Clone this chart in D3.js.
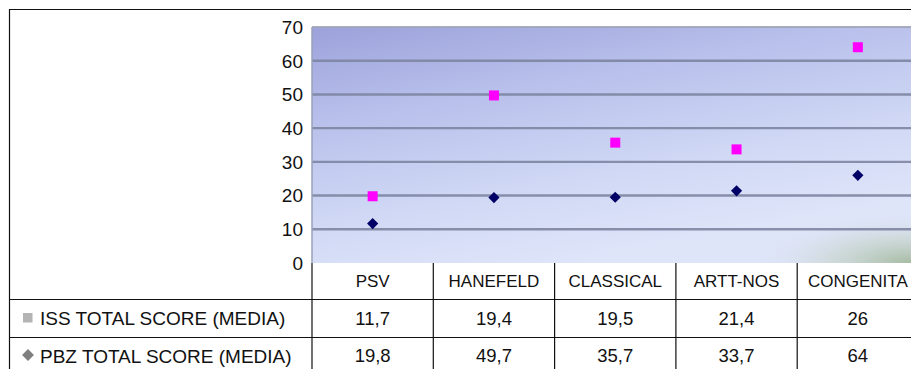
<!DOCTYPE html>
<html><head><meta charset="utf-8">
<script src="https://cdn.jsdelivr.net/npm/d3@7/dist/d3.min.js"></script>
<style>
html,body{margin:0;padding:0;background:#fff;overflow:hidden}
svg{display:block;font-family:"Liberation Sans",Arial,sans-serif}
</style></head><body>
<div id="chart"></div>
<script>
const categories = ["PSV","HANEFELD","CLASSICAL","ARTT-NOS","CONGENITA"];
const seriesNames = ["ISS TOTAL SCORE (MEDIA)","PBZ TOTAL SCORE (MEDIA)"];
const issValues = [11.7,19.4,19.5,21.4,26];
const pbzValues = [19.8,49.7,35.7,33.7,64];
const issLabels = ["11,7","19,4","19,5","21,4","26"];
const pbzLabels = ["19,8","49,7","35,7","33,7","64"];
const yTicks = [0,10,20,30,40,50,60,70];

const W=911,H=369;
const svg=d3.select("#chart").append("svg").attr("width",W).attr("height",H);
const defs=svg.append("defs");
const lg=defs.append("linearGradient").attr("id","bg").attr("x1","0").attr("y1","0").attr("x2","0.45").attr("y2","1");
lg.append("stop").attr("offset","0").attr("stop-color","#9ca2da");
lg.append("stop").attr("offset","0.35").attr("stop-color","#b9c1ec");
lg.append("stop").attr("offset","0.7").attr("stop-color","#d0d8f5");
lg.append("stop").attr("offset","1").attr("stop-color","#dfe5f9");
const rg=defs.append("radialGradient").attr("id","green").attr("cx","1").attr("cy","1").attr("r","0.6");
rg.append("stop").attr("offset","0").attr("stop-color","#9cb494").attr("stop-opacity",0.85);
rg.append("stop").attr("offset","0.5").attr("stop-color","#bccdba").attr("stop-opacity",0.45);
rg.append("stop").attr("offset","1").attr("stop-color","#dde3f8").attr("stop-opacity",0);

const plotL=312, catW=121.3, plotT=27, plotB=263;
const x=d3.scaleBand().domain(categories).range([plotL, plotL+catW*categories.length]);
const y=d3.scaleLinear().domain([0,70]).range([plotB,plotT]);

// plot background
svg.append("rect").attr("x",plotL).attr("y",plotT).attr("width",W-plotL).attr("height",plotB-plotT).attr("fill","url(#bg)");
svg.append("rect").attr("x",plotL+330).attr("y",plotT+150).attr("width",W-plotL-330).attr("height",plotB-plotT-150).attr("fill","url(#green)");

// gridlines
svg.append("g").selectAll("line").data(yTicks.filter(d=>d>0)).join("line")
  .attr("x1",plotL).attr("x2",W).attr("y1",d=>y(d)).attr("y2",d=>y(d))
  .attr("stroke",d=>d===70?"#a0a6b8":"#7e86a2").attr("stroke-width",d=>d===70?2:2.4).attr("opacity",0.9);
// left axis line
svg.append("line").attr("x1",plotL).attr("x2",plotL).attr("y1",plotT).attr("y2",plotB).attr("stroke","#9aa0b8").attr("stroke-width",1.5);

// y tick labels
svg.append("g").selectAll("text").data(yTicks).join("text")
  .attr("x",303).attr("y",d=>y(d)).attr("dy","0.36em").attr("text-anchor","end")
  .attr("font-size",19).attr("fill","#111").text(d=>d);

// outer border
svg.append("line").attr("x1",9).attr("x2",W).attr("y1",9.5).attr("y2",9.5).attr("stroke","#111").attr("stroke-width",1.2);
svg.append("line").attr("x1",9.5).attr("x2",9.5).attr("y1",9).attr("y2",H).attr("stroke","#111").attr("stroke-width",1.2);

// table
const rowY=[263,299.5,337.5,376];
const tbl=svg.append("g").attr("stroke","#111").attr("stroke-width",1.2);
tbl.append("line").attr("x1",9).attr("x2",W).attr("y1",rowY[1]).attr("y2",rowY[1]);
tbl.append("line").attr("x1",9).attr("x2",W).attr("y1",rowY[2]).attr("y2",rowY[2]);
tbl.append("line").attr("x1",plotL).attr("x2",plotL).attr("y1",rowY[0]).attr("y2",H);
tbl.selectAll("line.v").data(categories.slice(1)).join("line").attr("class","v")
  .attr("x1",d=>x(d)).attr("x2",d=>x(d)).attr("y1",rowY[0]).attr("y2",H);

const cx=d=>x(d)+x.bandwidth()/2;
svg.append("g").selectAll("text").data(categories).join("text")
  .attr("x",cx).attr("y",(rowY[0]+rowY[1])/2).attr("dy","0.36em").attr("text-anchor","middle")
  .attr("font-size",17).attr("fill","#111").text(d=>d);
svg.append("g").selectAll("text").data(categories).join("text")
  .attr("x",cx).attr("y",(rowY[1]+rowY[2])/2).attr("dy","0.36em").attr("text-anchor","middle")
  .attr("font-size",18.5).attr("fill","#111").text((d,i)=>issLabels[i]);
svg.append("g").selectAll("text").data(categories).join("text")
  .attr("x",cx).attr("y",(rowY[2]+rowY[3])/2-1).attr("dy","0.36em").attr("text-anchor","middle")
  .attr("font-size",18.5).attr("fill","#111").text((d,i)=>pbzLabels[i]);

// legend in table
svg.append("rect").attr("x",23).attr("y",313).attr("width",9.5).attr("height",9.5).attr("fill","#b4b4b4");
svg.append("path").attr("d",d3.symbol(d3.symbolDiamond2,90)()).attr("transform","translate(28,355)").attr("fill","#808080");
svg.append("text").attr("x",40).attr("y",(rowY[1]+rowY[2])/2).attr("dy","0.36em").attr("font-size",19).attr("fill","#111").text(seriesNames[0]);
svg.append("text").attr("x",40).attr("y",(rowY[2]+rowY[3])/2-1).attr("dy","0.36em").attr("font-size",19).attr("fill","#111").text(seriesNames[1]);

// markers
svg.append("g").selectAll("rect").data(categories).join("rect")
  .attr("x",(d,i)=>cx(d)-5).attr("y",(d,i)=>y(pbzValues[i])-5).attr("width",10).attr("height",10).attr("fill","#ff00ff");
svg.append("g").selectAll("path").data(categories).join("path")
  .attr("d",d3.symbol(d3.symbolDiamond2,80)())
  .attr("transform",(d,i)=>`translate(${cx(d)},${y(issValues[i])})`).attr("fill","#000066");
</script></body></html>
